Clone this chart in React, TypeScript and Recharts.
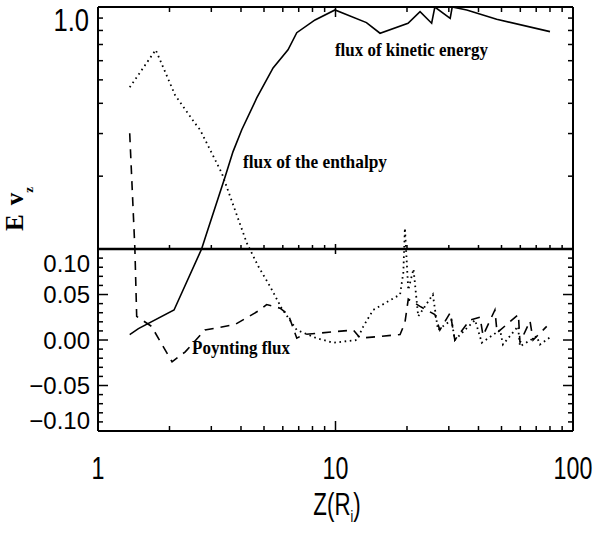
import React from 'react';
import { LineChart, Line, XAxis, YAxis, ReferenceLine, ReferenceDot } from 'recharts';

// values: Z(R_i) and E v_z for each flux
const KIN_X = [1.36, 1.48, 2.09, 2.73, 2.9, 3.43, 3.7, 4.03, 4.66, 5.46, 6.31, 6.87, 8.2, 9.95, 13.5, 15.4, 20.2, 22.7, 25.4, 26.2, 30.4, 31.0, 35.7, 47.7, 80];
const KIN_Y = [0.006, 0.0125, 0.033, 0.1, 0.12, 0.199, 0.252, 0.311, 0.421, 0.56, 0.665, 0.783, 0.884, 0.972, 0.862, 0.779, 0.857, 0.956, 0.857, 1.0, 0.898, 1.0, 0.972, 0.89, 0.791];

const ENTH_X = [1.36, 1.75, 2.11, 2.56, 2.69, 3.32, 3.6, 4.23, 4.73, 5.3, 5.93, 6.87, 8.33, 9.8, 12.3, 13.1, 14.4, 18.7, 19.3, 19.6, 20.25, 21.3, 22.3, 25.7, 27.0, 30.8, 31.8, 38.7, 41.3, 49.3, 50.7, 58.7, 59.8, 70.3, 72.6, 80];
const ENTH_Y = [0.466, 0.665, 0.433, 0.331, 0.311, 0.206, 0.165, 0.106, 0.081, 0.059, 0.035, 0.011, 0.002, -0.003, 0.0, 0.015, 0.033, 0.05, 0.074, 0.122, 0.055, 0.078, 0.026, 0.05, 0.011, 0.022, 0.0, 0.022, -0.003, 0.011, -0.005, 0.015, -0.007, 0.004, -0.005, 0.003];

const POYN_X = [1.36, 1.43, 1.455, 1.68, 2.05, 2.33, 2.82, 3.77, 4.81, 5.13, 5.84, 6.33, 6.87, 7.32, 11.9, 12.7, 18.7, 19.6, 20.25, 22.7, 26.2, 27.5, 30.4, 31.8, 36.8, 40.6, 41.8, 46.9, 47.9, 58.9, 59.8, 65.9, 67.9, 77.5];
const POYN_Y = [0.301, 0.1, 0.026, 0.015, -0.024, -0.013, 0.011, 0.017, 0.033, 0.039, 0.035, 0.028, 0.002, 0.006, 0.011, 0.002, 0.006, 0.019, 0.045, 0.037, 0.028, 0.011, 0.03, 0.0, 0.022, 0.025, 0.005, 0.033, 0.008, 0.028, -0.003, 0.021, 0.0, 0.015];

const X_TICKS = [1, 2, 3, 4, 5, 6, 7, 8, 9, 10, 20, 30, 40, 50, 60, 70, 80, 90, 100];
const X_LABELS = [1, 10, 100];
const Y_TICKS_LOW = [-0.1, -0.09, -0.08, -0.07, -0.06, -0.05, -0.04, -0.03, -0.02, -0.01, 0, 0.01, 0.02, 0.03, 0.04, 0.05, 0.06, 0.07, 0.08, 0.09, 0.1];
const Y_TICKS_HIGH = [0.2, 0.3, 0.4, 0.5, 0.6, 0.7, 0.8, 0.9, 1.0];
const Y_LABELS = [-0.1, -0.05, 0, 0.05, 0.1, 1.0];

const W = 595;
const H = 533;
const TOP = 7;
const LEFT_W = 98;
const RIGHT = 22;
const BOTTOM_H = 102;
const PLOT_H = H - TOP - BOTTOM_H;
const PLOT_W = W - LEFT_W - RIGHT;

// y axis is linear below 0.1 and logarithmic above it
const K = 0.266;
const YMIN = -0.1;
const YMAX = 0.1 + K;
const T = (y: number) => (y <= 0.1 ? y : 0.1 + K * Math.log10(y / 0.1));

// pixel lengths of the tick marks, turned into data units
const PX_Y = PLOT_H / (YMAX - YMIN);
const PX_DEC = PLOT_W / 2;
const dyOf = (px: number) => px / PX_Y;
const fxOf = (px: number) => Math.pow(10, px / PX_DEC);

const rows = (xs: number[], ys: number[]) => xs.map((x, i) => ({ x, t: T(ys[i]) }));
const kinData = rows(KIN_X, KIN_Y);
const enthData = rows(ENTH_X, ENTH_Y);
const poynData = rows(POYN_X, POYN_Y);

const yTicks = [...Y_TICKS_LOW, ...Y_TICKS_HIGH].map((v) => ({ v, t: T(v) }));
const realY = (t: number) => {
  const hit = yTicks.find((d) => Math.abs(d.t - t) < 1e-9);
  return hit ? hit.v : t;
};
const isYMajor = (v: number) => Y_LABELS.some((l) => Math.abs(l - v) < 1e-9);

const SANS = '"Liberation Sans", Arial, sans-serif';
const SERIF = '"Liberation Serif", "Times New Roman", serif';

const fmtY = (v: number) => {
  if (Math.abs(v - 1) < 1e-9) return '1.0';
  const s = Math.abs(v).toFixed(2);
  return v < -1e-9 ? '\u2212' + s : s;
};

const BottomLabel = (props: any) => {
  const { x, y, payload } = props;
  if (!X_LABELS.includes(payload.value)) return <g />;
  return (
    <text transform={`translate(${x},${y + 48}) scale(0.75,1)`} textAnchor="middle" fontSize={31} fontFamily={SANS} fill="#000">
      {payload.value}
    </text>
  );
};

const LeftLabel = (props: any) => {
  const { x, y, payload } = props;
  const v = realY(payload.value);
  if (!isYMajor(v)) return <g />;
  if (Math.abs(v - 1) < 1e-9) {
    return (
      <text transform={`translate(${x - 9},${y + 24}) scale(0.8,1)`} textAnchor="end" fontSize={32} fontFamily={SANS} fill="#000">
        {fmtY(v)}
      </text>
    );
  }
  const shift = v > 0.09 ? 22.5 : v < -0.09 ? -2.5 : 8.5;
  return (
    <text x={x - 8} y={y + shift} textAnchor="end" fontSize={24} fontFamily={SANS} fill="#000">
      {fmtY(v)}
    </text>
  );
};

const XTitle = () => (
  <text transform="translate(337,515) scale(0.72,1)" textAnchor="middle" fontSize={31} fontFamily={SANS} fill="#000">
    Z(R<tspan fontSize={17} dy={7}>i</tspan>
    <tspan dy={-7}>)</tspan>
  </text>
);

const YTitle = () => (
  <text transform="translate(23,209) rotate(-90)" textAnchor="middle" fontSize={25} fontWeight="bold" fontFamily={SERIF} fill="#000">
    E<tspan dx={9}>v</tspan>
    <tspan fontSize={13} dy={10}>z</tspan>
  </text>
);

const note = (text: string, width: number) => (p: any) => (
  <text x={p.cx} y={p.cy} fontSize={19} fontWeight="bold" fontFamily={SERIF} fill="#000" textLength={width} lengthAdjust="spacingAndGlyphs">
    {text}
  </text>
);

const seg = (key: string, a: { x: number; y: number }, b: { x: number; y: number }, w = 1.5) => (
  <ReferenceLine key={key} xAxisId="b" yAxisId="l" segment={[a, b]} stroke="#000" strokeWidth={w} ifOverflow="visible" />
);

export default function App() {
  const marks: React.ReactNode[] = [];
  X_TICKS.forEach((v) => {
    const major = X_LABELS.includes(v);
    const len = major ? 10 : 5;
    marks.push(seg(`xb${v}`, { x: v, y: YMIN }, { x: v, y: YMIN + dyOf(len) }));
    marks.push(seg(`xt${v}`, { x: v, y: YMAX }, { x: v, y: YMAX - dyOf(len) }));
    marks.push(seg(`xd${v}`, { x: v, y: 0.1 - dyOf(major ? 5 : 0) }, { x: v, y: 0.1 + dyOf(major ? 5 : 4) }));
  });
  yTicks.forEach((d) => {
    const len = isYMajor(d.v) ? 10 : 5;
    marks.push(seg(`yl${d.v}`, { x: 1, y: d.t }, { x: fxOf(len), y: d.t }));
    marks.push(seg(`yr${d.v}`, { x: 100, y: d.t }, { x: 100 / fxOf(len), y: d.t }));
  });

  return (
    <div style={{ position: 'absolute', left: 0, top: 0, background: '#fff' }}>
      <LineChart width={W} height={H} margin={{ top: TOP, right: RIGHT, bottom: 0, left: 0 }}>
        <XAxis
          xAxisId="b"
          dataKey="x"
          type="number"
          scale="log"
          domain={[1, 100]}
          allowDataOverflow
          ticks={X_TICKS}
          interval={0}
          tickSize={0}
          tickMargin={0}
          tickLine={false}
          tick={<BottomLabel />}
          height={BOTTOM_H}
          axisLine={{ stroke: '#000', strokeWidth: 2 }}
          label={<XTitle />}
        />
        <YAxis
          yAxisId="l"
          type="number"
          domain={[YMIN, YMAX]}
          allowDataOverflow
          ticks={yTicks.map((d) => d.t)}
          interval={0}
          tickSize={0}
          tickMargin={0}
          tickLine={false}
          tick={<LeftLabel />}
          width={LEFT_W}
          axisLine={{ stroke: '#000', strokeWidth: 2 }}
          label={<YTitle />}
        />
        {seg('frame-top', { x: 1, y: YMAX }, { x: 100, y: YMAX }, 2)}
        {seg('frame-right', { x: 100, y: YMIN }, { x: 100, y: YMAX }, 2)}
        {marks}
        <ReferenceLine xAxisId="b" yAxisId="l" y={0.1} stroke="#000" strokeWidth={2.5} />
        <Line xAxisId="b" yAxisId="l" data={kinData} dataKey="t" type="linear" stroke="#000" strokeWidth={1.6} dot={false} isAnimationActive={false} />
        <Line xAxisId="b" yAxisId="l" data={enthData} dataKey="t" type="linear" stroke="#000" strokeWidth={1.8} strokeDasharray="1.6 3.6" dot={false} isAnimationActive={false} />
        <Line xAxisId="b" yAxisId="l" data={poynData} dataKey="t" type="linear" stroke="#000" strokeWidth={1.6} strokeDasharray="9 7" dot={false} isAnimationActive={false} />
        <ReferenceDot xAxisId="b" yAxisId="l" x={9.95} y={T(0.627)} r={0} shape={note('flux of kinetic energy', 153)} />
        <ReferenceDot xAxisId="b" yAxisId="l" x={4.08} y={T(0.216)} r={0} shape={note('flux of the enthalpy', 144)} />
        <ReferenceDot xAxisId="b" yAxisId="l" x={2.49} y={T(-0.0154)} r={0} shape={note('Poynting flux', 98)} />
      </LineChart>
    </div>
  );
}
